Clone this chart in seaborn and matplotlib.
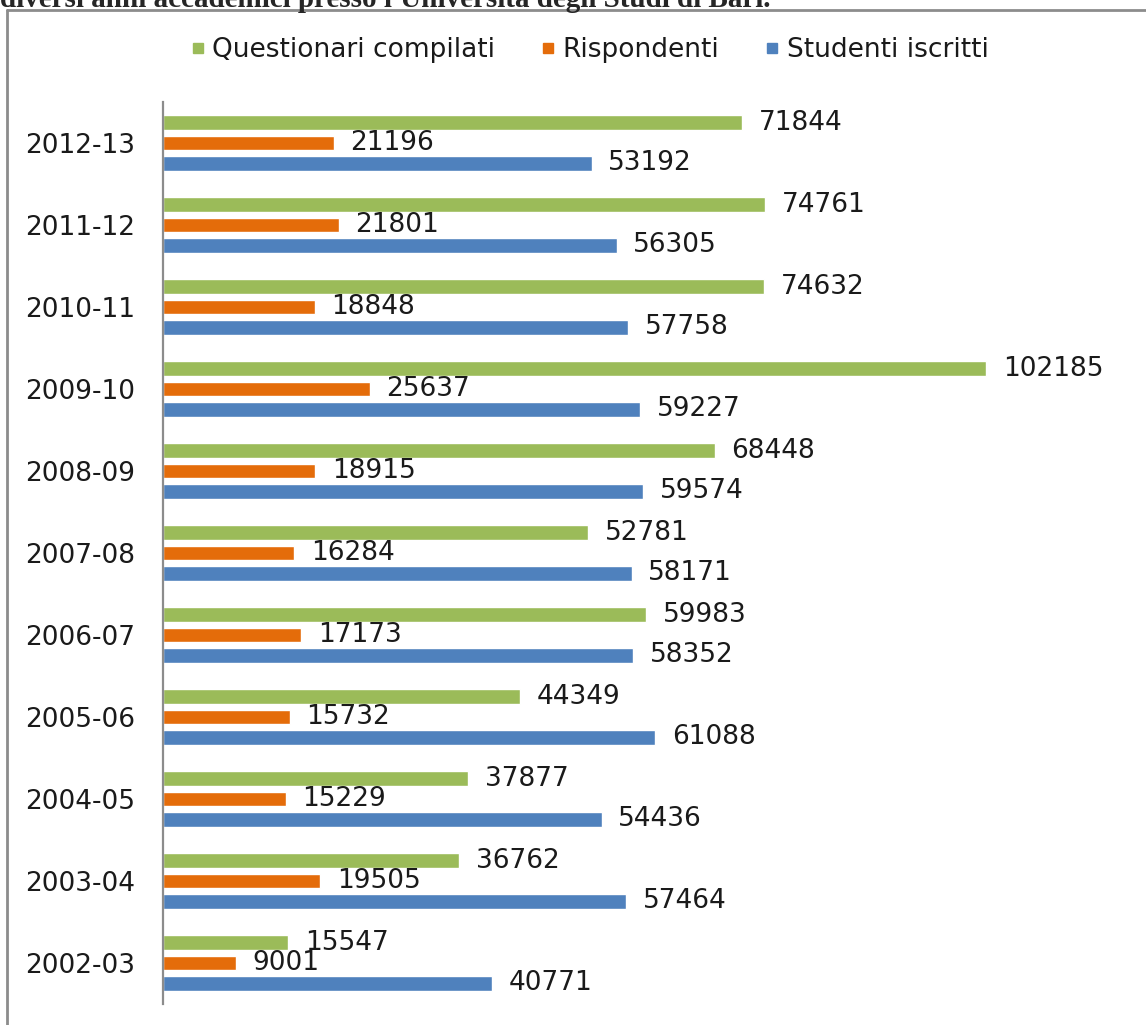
import pandas as pd
import seaborn as sns
import matplotlib.pyplot as plt
from matplotlib.lines import Line2D

# Data
anni = ['2012-13', '2011-12', '2010-11', '2009-10', '2008-09', '2007-08',
        '2006-07', '2005-06', '2004-05', '2003-04', '2002-03']
questionari = [71844, 74761, 74632, 102185, 68448, 52781, 59983, 44349, 37877, 36762, 15547]
rispondenti = [21196, 21801, 18848, 25637, 18915, 16284, 17173, 15732, 15229, 19505, 9001]
studenti = [53192, 56305, 57758, 59227, 59574, 58171, 58352, 61088, 54436, 57464, 40771]

serie = ['Questionari compilati', 'Rispondenti', 'Studenti iscritti']
colori = ['#9BBB59', '#E46C0A', '#4F81BD']

df = pd.DataFrame({
    'anno': anni * 3,
    'valore': questionari + rispondenti + studenti,
    'serie': [serie[0]] * len(anni) + [serie[1]] * len(anni) + [serie[2]] * len(anni),
})

sns.set_style('white')
plt.rcParams['font.family'] = ['DejaVu Sans']

W, H = 1146, 1025
fig = plt.figure(figsize=(W / 100, H / 100), dpi=100)
ax = fig.add_axes([163 / W, 21 / H, (1130 - 163) / W, 902 / H])

sns.barplot(data=df, y='anno', x='valore', hue='serie', hue_order=serie,
            palette=colori, order=anni, orient='h', width=0.75, gap=0.27,
            saturation=1, legend=False, ax=ax)

for c in ax.containers:
    ax.bar_label(c, padding=12, fontsize=19, color='#1a1a1a')

ax.set_xlim(0, 120000)
ax.set_xlabel('')
ax.set_ylabel('')
ax.xaxis.set_visible(False)
for s in ['top', 'right', 'bottom']:
    ax.spines[s].set_visible(False)
ax.spines['left'].set_color('#8c8c8c')
ax.spines['left'].set_linewidth(1.6)
ax.tick_params(axis='y', length=0, pad=20, labelsize=19, labelcolor='#1a1a1a')

# Legend
handles = [Line2D([], [], marker='s', linestyle='', markersize=7.5,
                  markerfacecolor=col, markeredgecolor=col) for col in colori]
fig.legend(handles, serie, loc='center', bbox_to_anchor=(588 / W, 1 - 50 / H),
           ncol=3, frameon=False, fontsize=19, handletextpad=0.15,
           columnspacing=1.6, handlelength=0.8, labelcolor='#1a1a1a')

# Border of the chart area
fig.add_artist(Line2D([7 / W, 7 / W], [0, 1 - 10 / H], transform=fig.transFigure,
                      color='#8c8c8c', linewidth=2))
fig.add_artist(Line2D([7 / W, 1], [1 - 10 / H, 1 - 10 / H], transform=fig.transFigure,
                      color='#8c8c8c', linewidth=2))

# Clipped heading from the page
fig.text(0.0, 1 - 7 / H, "diversi anni accademici presso l'Università degli Studi di Bari.",
         fontfamily='Liberation Serif', fontweight='bold', fontsize=21,
         va='baseline', ha='left')

fig.savefig('out.png', dpi=100)
